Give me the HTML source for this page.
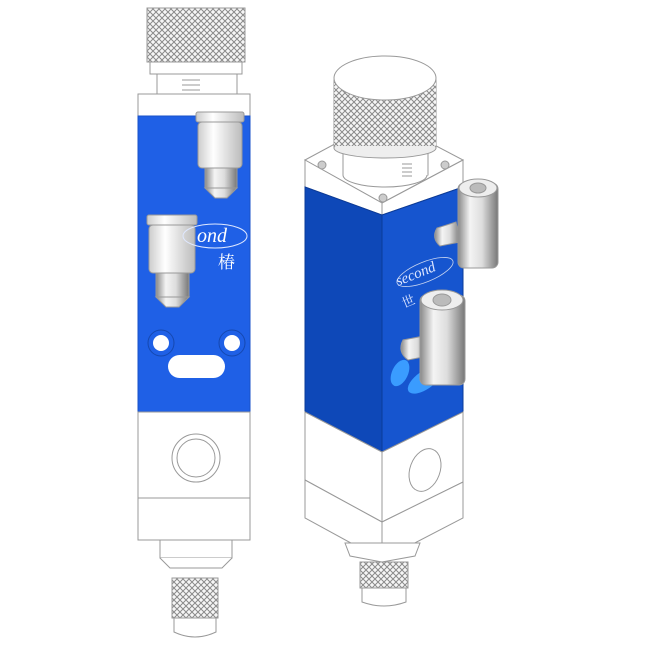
<!DOCTYPE html>
<html><head><meta charset="utf-8"><style>html,body{margin:0;padding:0;background:#fff}svg{display:block}</style></head>
<body>
<svg width="654" height="659" viewBox="0 0 654 659" xmlns="http://www.w3.org/2000/svg">
<defs>
<pattern id="kn" width="6" height="6" patternUnits="userSpaceOnUse">
<rect width="6" height="6" fill="#f6f6f6"/>
<path d="M0 0L6 6M6 0L0 6" stroke="#8a8a8a" stroke-width="1"/>
</pattern>
<linearGradient id="met" x1="0" x2="1">
<stop offset="0" stop-color="#888"/><stop offset="0.3" stop-color="#f4f4f4"/><stop offset="0.6" stop-color="#ddd"/><stop offset="1" stop-color="#777"/>
</linearGradient>
<linearGradient id="metw" x1="0" x2="1">
<stop offset="0" stop-color="#ccc"/><stop offset="0.35" stop-color="#fff"/><stop offset="1" stop-color="#bbb"/>
</linearGradient>
</defs>
<g stroke="#999" stroke-width="1" fill="#fff">
<!-- LEFT VALVE -->
<rect x="147" y="8" width="98" height="54" fill="url(#kn)"/>
<rect x="150" y="62" width="92" height="12"/>
<rect x="157" y="74" width="80" height="20"/>
<path d="M182 80h18M182 85h18M182 90h18" />
<rect x="138" y="94" width="112" height="24"/>
<rect x="138" y="116" width="112" height="296" fill="#1f60e6" stroke="#1a52c8"/>
<rect x="138" y="412" width="112" height="86"/>
<circle cx="196" cy="458" r="24"/><circle cx="196" cy="458" r="19"/>
<rect x="138" y="498" width="112" height="42"/>
<rect x="160" y="540" width="72" height="18"/>
<path d="M160 558 l10 10 h52 l10 -10" />
<rect x="172" y="578" width="46" height="40" fill="url(#kn)"/>
<path d="M174 618 h42 v14 q-21 10 -42 0z"/>
<!-- left fittings -->
<rect x="196" y="112" width="48" height="10" rx="2" fill="url(#metw)"/>
<rect x="198" y="122" width="44" height="46" rx="4" fill="url(#metw)"/>
<rect x="205" y="168" width="32" height="20" fill="url(#met)"/>
<path d="M205 188 h32 l-10 10 h-12z" fill="url(#met)"/>
<rect x="147" y="215" width="50" height="10" rx="2" fill="url(#metw)"/>
<rect x="149" y="225" width="46" height="48" rx="4" fill="url(#metw)"/>
<rect x="156" y="273" width="33" height="24" fill="url(#met)"/>
<path d="M156 297 h33 l-10 10 h-13z" fill="url(#met)"/>
<!-- holes -->
<circle cx="161" cy="343" r="13" fill="none" stroke="#1548b0"/>
<circle cx="232" cy="343" r="13" fill="none" stroke="#1548b0"/>
<circle cx="161" cy="343" r="8" stroke="none"/>
<circle cx="232" cy="343" r="8" stroke="none"/>
<rect x="168" y="355" width="57" height="23" rx="11.5" stroke="none"/>
</g>
<ellipse cx="215" cy="236" rx="32" ry="12" fill="none" stroke="#dfe8ff" stroke-width="1"/>
<text x="197" y="242" font-family="Liberation Serif, serif" font-style="italic" font-size="20" fill="#fff">ond</text>
<text x="218" y="268" font-family="Liberation Serif, 'Noto Serif CJK SC', serif" font-size="17" fill="#fff">椿</text>

<!-- RIGHT VALVE -->
<g stroke="#999" stroke-width="1">
<path d="M305 160 L383 118 L463 160 L382 203Z" fill="#fff"/>
<path d="M305 160 L382 203 L382 215 L305 187Z" fill="#fff"/>
<path d="M382 203 L463 160 L463 187 L382 215Z" fill="#fff"/>
<path d="M305 187 L382 215 L382 452 L305 412Z" fill="#0e48b8" stroke="#0b3b99"/>
<path d="M382 215 L463 187 L463 412 L382 452Z" fill="#1655cf" stroke="#0b3b99"/>
<path d="M305 412 L382 452 L382 522 L305 480Z" fill="#fff"/>
<path d="M382 452 L463 412 L463 482 L382 522Z" fill="#fff"/>
<path d="M305 480 L382 522 L382 560 L305 518Z" fill="#fff"/>
<path d="M382 522 L463 482 L463 518 L382 560Z" fill="#fff"/>
<ellipse cx="425" cy="470" rx="15" ry="22" transform="rotate(20 425 470)" fill="#fff"/>
<path d="M345 543 L420 543 L415 556 L382 562 L350 556Z" fill="#fff"/>
<rect x="360" y="562" width="48" height="26" fill="url(#kn)"/>
<path d="M362 588 h44 v14 q-22 8 -44 0z" fill="#fff"/>
<rect x="343" y="145" width="85" height="30" fill="#fff"/>
<ellipse cx="385" cy="175" rx="42" ry="12" fill="#fff"/>
<rect x="343" y="145" width="85" height="30" fill="#fff" stroke="none"/>
<path d="M343 145 V175 M428 145 V175" />
<path d="M402 168h10M402 172h10M402 176h10M402 164h10" />
<rect x="334" y="80" width="102" height="68" fill="url(#kn)"/>
<ellipse cx="385" cy="148" rx="51" ry="10" fill="#eee"/>
<rect x="334" y="80" width="102" height="66" fill="url(#kn)" stroke="none"/>
<ellipse cx="385" cy="78" rx="51" ry="22" fill="#fff"/>
<circle cx="322" cy="165" r="4" fill="#ccc"/><circle cx="445" cy="165" r="4" fill="#ccc"/><circle cx="383" cy="198" r="4" fill="#ccc"/>
<ellipse cx="400" cy="373" rx="8" ry="14" transform="rotate(25 400 373)" fill="#3a9cff" stroke="none"/>
<ellipse cx="425" cy="380" rx="9" ry="20" transform="rotate(55 425 380)" fill="#3a9cff" stroke="none"/>
<path d="M437 228 q-6 10 3 18 l20 -4 l-4 -20z" fill="url(#met)"/>
<rect x="458" y="183" width="40" height="85" rx="6" fill="url(#met)"/>
<ellipse cx="478" cy="188" rx="19" ry="9" fill="#eee"/>
<ellipse cx="478" cy="188" rx="8" ry="5" fill="#bbb"/>
<path d="M403 340 q-6 12 5 20 l20 -4 l-4 -20z" fill="url(#met)"/>
<rect x="420" y="295" width="45" height="90" rx="6" fill="url(#met)"/>
<ellipse cx="442" cy="300" rx="21" ry="10" fill="#eee"/>
<ellipse cx="442" cy="300" rx="9" ry="6" fill="#bbb"/>
</g>
<ellipse cx="425" cy="272" rx="30" ry="10" transform="rotate(-22 425 272)" fill="none" stroke="#c8d4f0" stroke-width="0.8"/>
<text x="398" y="286" font-family="Liberation Serif, serif" font-style="italic" font-size="15" fill="#dbe4ff" transform="rotate(-22 398 286)">second</text>
<text x="404" y="308" font-family="Liberation Serif, 'Noto Serif CJK SC', serif" font-size="13" fill="#dbe4ff" transform="rotate(-22 404 308)">世</text>
</svg>
</body></html>
